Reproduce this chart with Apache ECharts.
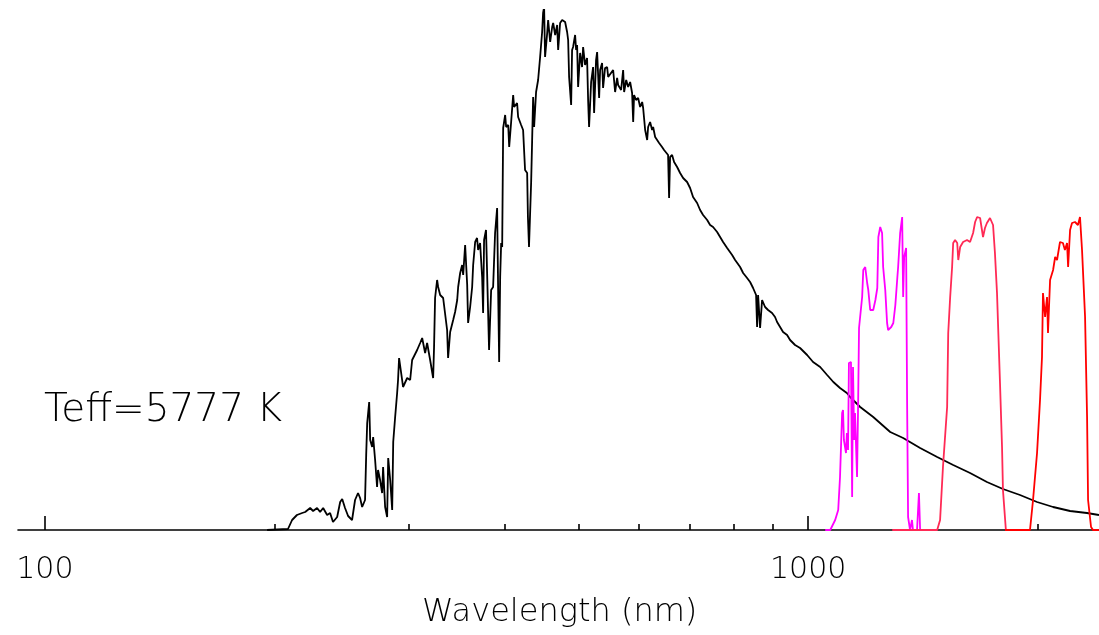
<!DOCTYPE html>
<html>
<head>
<meta charset="utf-8">
<title>Solar spectrum with J, H, K filters</title>
<script src="https://cdn.jsdelivr.net/npm/echarts@6/dist/echarts.min.js"></script>
<style>
    html, body { margin: 0; padding: 0; background: #fff; }
    #spectrum_chart { width: 1099px; height: 635px; }
</style>
</head>
<body>
<div id="spectrum_chart"></div>
<script>

// Data
// ------------------------------

// Solar spectrum, wavelength (nm) and relative flux
var sunWavelength = [
    195.5, 208.2, 210.8, 213.9, 217.3, 219.3, 222.6, 224.6, 227.3, 229.4, 231.5, 234.3, 236.4, 238.5, 241.5,
    243.7, 245.2, 247.3, 249.6, 252.6, 254.9, 257.2, 258.8, 260.4, 262.7, 263.6, 264.4, 266.0, 266.8, 268.4,
    269.2, 270.8, 272.4, 273.2, 274.9, 276.6, 277.4, 279.1, 280.8, 281.7, 283.4, 285.1, 286.0, 287.6, 289.4,
    290.2, 291.1, 293.8, 294.6, 298.3, 301.0, 302.8, 307.4, 310.2, 312.1, 314.9, 316.8, 319.7, 322.6, 323.5,
    324.5, 326.5, 327.5, 329.5, 332.5, 334.5, 336.5, 337.5, 339.6, 342.7, 344.7, 346.9, 347.9, 350.0, 352.1,
    353.2, 355.3, 357.5, 358.5, 360.7, 362.9, 364.0, 366.2, 368.3, 369.5, 371.7, 374.0, 375.1, 376.2, 378.4,
    379.6, 381.9, 384.3, 386.6, 388.9, 391.3, 392.5, 393.7, 394.9, 396.1, 397.3, 398.5, 400.9, 402.1, 404.6,
    405.8, 408.2, 410.7, 411.9, 415.6, 416.9, 420.7, 423.2, 425.7, 428.4, 429.4, 430.8, 433.6, 434.9, 436.2,
    437.5, 440.1, 442.8, 445.5, 448.2, 449.5, 450.9, 452.2, 455.1, 456.4, 459.2, 462.0, 463.4, 466.2, 469.0,
    470.4, 473.2, 476.1, 480.4, 483.3, 484.8, 486.2, 489.2, 490.6, 492.1, 495.1, 496.6, 498.1, 499.6, 502.6,
    505.6, 507.2, 510.2, 513.3, 514.9, 516.4, 519.6, 522.7, 524.3, 527.4, 529.1, 532.3, 533.9, 537.1, 538.7,
    541.9, 545.3, 547.0, 550.3, 555.3, 558.6, 562.0, 563.7, 568.8, 572.3, 574.0, 577.6, 581.0, 584.5, 588.0,
    589.9, 591.5, 595.1, 598.8, 602.4, 606.1, 607.9, 611.6, 615.3, 617.1, 620.8, 624.6, 626.5, 630.3, 634.1,
    637.9, 643.6, 647.5, 651.4, 655.4, 657.4, 659.4, 663.4, 667.4, 673.5, 679.6, 685.8, 694.1, 700.4, 706.7,
    715.4, 721.9, 728.4, 732.8, 737.4, 744.0, 750.7, 759.9, 766.8, 773.7, 783.2, 795.1, 802.3, 814.5, 821.9,
    831.8, 839.4, 847.0, 854.7, 857.3, 859.9, 865.1, 870.3, 878.2, 886.2, 896.9, 905.0, 910.6, 918.9, 927.2,
    938.5, 947.0, 961.3, 976.0, 997, 1015, 1037, 1059, 1079, 1101, 1124, 1135, 1170, 1217, 1281,
    1332, 1402, 1476, 1549, 1630, 1715, 1800, 1895, 1995, 2094, 2204, 2319, 2405
];
var sunFlux = [
    0, 0.2, 2, 3, 3.4, 3.6, 4.4, 3.8, 4.4, 3.6, 4.4, 3, 3.4, 1.6, 2.6,
    5.6, 6.2, 4.4, 2.8, 2, 6, 7.4, 6.4, 4.6, 6, 15, 21.4, 25.6, 18, 16.6,
    18.6, 14, 8.6, 12, 10, 7.4, 12.6, 4.6, 2.6, 14.4, 10, 4, 17.6, 22.4, 27.4,
    30, 34.4, 30, 28.6, 30.4, 30, 34, 36, 37.4, 38.4, 35.4, 37.4, 34, 30.4, 36.6,
    46.4, 50, 48.6, 47, 46.4, 46, 40, 34.4, 39.6, 42, 43.6, 46, 48.6, 51.4, 53,
    51, 57, 49, 41.4, 44.6, 48.6, 53, 57.6, 58.4, 56, 57.4, 50.6, 43.4, 58, 60,
    59.6, 36, 48, 48.6, 59.4, 64.4, 48, 33.6, 50.6, 57.4, 56.6, 80.4, 83, 80.6, 81,
    76.6, 81.6, 87, 84.6, 85.4, 82.6, 81, 80, 72, 71.4, 62.6, 56.6, 69.6, 78, 86.6,
    80.6, 87.6, 90, 94.6, 99.6, 103.4, 104.6, 94.6, 99.4, 102, 97.6, 100.6, 101.4, 99, 101,
    96, 101.4, 102, 101.6, 99.6, 98, 90.6, 85, 96, 96.6, 99, 96, 97, 88.6, 95.4,
    92.6, 96.6, 93, 94.4, 86, 80.6, 89.6, 92.6, 83.4, 94, 95.6, 86.4, 92, 93.4, 88.4,
    92.4, 92.6, 90.6, 90.6, 92, 87.6, 90.4, 89, 88, 92, 87.6, 90, 88.6, 89.6, 87.4,
    81.6, 87, 86, 86.4, 84.6, 85.6, 84.4, 80, 78, 80.6, 81.6, 80, 80.6, 78.6, 78.4,
    77.4, 76.6, 76, 76.4, 75, 66.4, 74.6, 75, 73.6, 72.6, 71.4, 70.4, 69.6, 68.4, 66.6,
    65.4, 64, 63, 63, 62, 61, 60.6, 59.6, 58.6, 57.6, 56.4, 55, 54, 52.6, 51.4,
    50.4, 49.6, 48.4, 47, 40.6, 47, 40.4, 46, 44.6, 44, 43.4, 42.6, 41.6, 40.6, 39.6,
    39, 38, 37, 36.4, 35, 33.6, 32.6, 31, 29.6, 28.4, 27.4, 26.6, 24.6, 22.6, 19.6,
    18.4, 16.4, 14.6, 13, 11.4, 9.6, 8.2, 7, 5.6, 4.6, 3.8, 3.4, 3
];

// J filter transmission
var jWavelength = [
    1053, 1069, 1085, 1095, 1101, 1108, 1111, 1114, 1121, 1124, 1128, 1131, 1138, 1142, 1145,
    1149, 1152, 1159, 1163, 1166, 1177, 1181, 1188, 1195, 1199, 1206, 1217, 1225, 1232, 1236,
    1243, 1250, 1254, 1262, 1269, 1273, 1285, 1293, 1301, 1309, 1312, 1320, 1328, 1332, 1336,
    1344, 1348, 1352, 1360, 1368, 1372, 1389, 1397, 1402, 1423
];
var jTransmission = [
    0, 0, 2, 4, 10.6, 23.4, 24, 18, 15.4, 19.4, 16, 33.4, 33.6, 6.6, 32.6,
    18, 23.4, 10.6, 26, 40.4, 46.6, 52, 52.6, 49.4, 48, 44, 44, 46, 48.4, 58.6,
    60.6, 59.4, 52.6, 48, 41.4, 40, 40.6, 41.4, 45, 50.6, 52.6, 59.4, 62.6, 46.6, 54.6,
    56.4, 25.4, 2.6, 0, 2, 0, 0, 7.4, 0, 0
];

// H filter transmission
var hWavelength = [
    1289, 1476, 1489, 1502, 1521, 1526, 1535, 1544, 1549, 1558, 1568, 1573, 1582, 1596, 1615,
    1630, 1645, 1655, 1665, 1680, 1695, 1705, 1715, 1731, 1747, 1757, 1768, 1784, 1795, 1800,
    1816, 1839
];
var hTransmission = [
    0, 0, 2, 12.6, 24.6, 39.4, 46.6, 52.6, 57.4, 58, 57.4, 54, 56.6, 57.6, 58,
    57.6, 59.4, 61.6, 62.6, 62.4, 58.6, 60.4, 61.4, 62.4, 61, 55.4, 47.4, 29.4, 16.6, 8,
    0, 0
];

// K filter transmission
var kWavelength = [
    1811, 1953, 1971, 1995, 2013, 2025, 2031, 2044, 2056, 2062, 2075, 2094, 2107, 2119, 2138,
    2157, 2170, 2184, 2191, 2204, 2217, 2237, 2257, 2271, 2285, 2292, 2306, 2320, 2327, 2348,
    2362, 2405
];
var kTransmission = [
    0, 0, 6, 15.4, 26, 34.6, 47.4, 42.6, 46.6, 39.4, 50, 52, 54.6, 54, 57.6,
    57.4, 56, 57.4, 52.6, 60, 61.4, 61.6, 61, 62.6, 56, 56, 42.6, 22.6, 6, 0.6,
    0, 0
];

// Axis ticks (nm)
var majorTicks = [100, 1000];
var minorTicks = [200, 300, 400, 500, 600, 700, 800, 900, 2000];


// Setup module
// ------------------------------

var SolarSpectrumChart = function() {

    var toLog = function(values) {
        return values.map(function(v) { return Math.log10(v); });
    };

    var toPairs = function(wl, fl) {
        return wl.map(function(w, i) { return [Math.log10(w), fl[i]]; });
    };

    var _spectrumChart = function() {
        if (typeof echarts == 'undefined') {
            console.warn('Warning - echarts.min.js is not loaded.');
            return;
        }

        var spectrum_element = document.getElementById('spectrum_chart');
        if (!spectrum_element) {
            return;
        }

        var spectrum_chart = echarts.init(spectrum_element, null, { renderer: 'canvas' });

        var xMin = Math.log10(92.2),
            xMax = Math.log10(2405),
            fontFamily = '"DejaVu Sans", sans-serif',
            textColor = '#000',
            lineWidth = 1.8;

        spectrum_chart.setOption({
            animation: false,
            backgroundColor: '#fff',

            grid: {
                left: 18,
                right: 0,
                top: 10,
                bottom: 105,
                containLabel: false,
                outerBoundsMode: 'none'
            },

            // Log wavelength axis, major ticks with labels
            xAxis: [
                {
                    type: 'value',
                    min: xMin,
                    max: xMax,
                    position: 'bottom',
                    splitLine: { show: false },
                    axisLine: {
                        show: true,
                        onZero: false,
                        lineStyle: { color: '#000', width: 1.6 }
                    },
                    axisTick: {
                        show: true,
                        inside: true,
                        length: 14,
                        customValues: toLog(majorTicks),
                        lineStyle: { color: '#000', width: 1.6 }
                    },
                    axisLabel: {
                        show: true,
                        margin: 25,
                        customValues: toLog(majorTicks),
                        formatter: function(v) {
                            return String(Math.round(Math.pow(10, v)));
                        },
                        fontFamily: fontFamily,
                        fontWeight: 200,
                        fontSize: 30,
                        color: textColor
                    }
                },
                {
                    type: 'value',
                    min: xMin,
                    max: xMax,
                    position: 'bottom',
                    splitLine: { show: false },
                    axisLine: { show: false },
                    axisTick: {
                        show: true,
                        inside: true,
                        length: 6,
                        customValues: toLog(minorTicks),
                        lineStyle: { color: '#000', width: 1.6 }
                    },
                    axisLabel: { show: false }
                }
            ],

            yAxis: {
                type: 'value',
                min: 0,
                max: 104,
                show: false,
                splitLine: { show: false }
            },

            graphic: [
                {
                    type: 'text',
                    left: 44,
                    top: 391,
                    style: {
                        text: 'Teff=5777 K',
                        fontFamily: fontFamily,
                        fontWeight: 200,
                        fontSize: 39,
                        fill: textColor
                    }
                },
                {
                    type: 'text',
                    left: 422,
                    top: 597,
                    style: {
                        text: 'Wavelength (nm)',
                        fontFamily: fontFamily,
                        fontWeight: 200,
                        fontSize: 32,
                        fill: textColor
                    }
                }
            ],

            series: [
                {
                    name: 'Sun',
                    type: 'line',
                    showSymbol: false,
                    xAxisIndex: 0,
                    lineStyle: { color: '#000', width: lineWidth },
                    data: toPairs(sunWavelength, sunFlux),
                    z: 2
                },
                {
                    name: 'J',
                    type: 'line',
                    showSymbol: false,
                    xAxisIndex: 0,
                    lineStyle: { color: '#ff00ff', width: lineWidth },
                    data: toPairs(jWavelength, jTransmission),
                    z: 3
                },
                {
                    name: 'H',
                    type: 'line',
                    showSymbol: false,
                    xAxisIndex: 0,
                    lineStyle: { color: '#ff2a55', width: lineWidth },
                    data: toPairs(hWavelength, hTransmission),
                    z: 3
                },
                {
                    name: 'K',
                    type: 'line',
                    showSymbol: false,
                    xAxisIndex: 0,
                    lineStyle: { color: '#ff0000', width: lineWidth },
                    data: toPairs(kWavelength, kTransmission),
                    z: 3
                }
            ]
        });
    };

    return {
        init: function() {
            _spectrumChart();
        }
    };
}();


// Initialize module
// ------------------------------

document.addEventListener('DOMContentLoaded', function() {
    SolarSpectrumChart.init();
});
</script>
</body>
</html>
